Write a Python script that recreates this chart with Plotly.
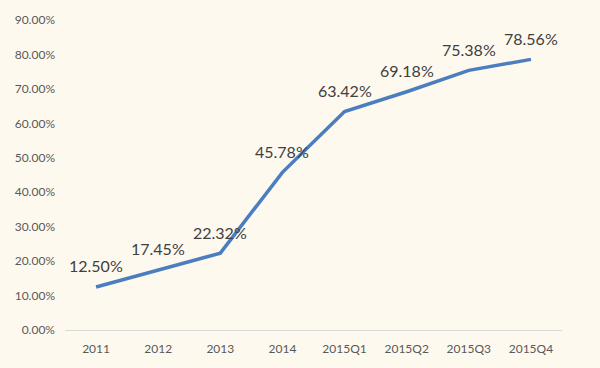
import plotly.graph_objects as go

categories = ["2011", "2012", "2013", "2014", "2015Q1", "2015Q2", "2015Q3", "2015Q4"]
values = [0.1250, 0.1745, 0.2232, 0.4578, 0.6342, 0.6918, 0.7538, 0.7856]
labels = ["12.50%", "17.45%", "22.32%", "45.78%", "63.42%", "69.18%", "75.38%", "78.56%"]
y_ticks = [0, 0.1, 0.2, 0.3, 0.4, 0.5, 0.6, 0.7, 0.8, 0.9]
y_tick_text = ["0.00%", "10.00%", "20.00%", "30.00%", "40.00%", "50.00%", "60.00%", "70.00%", "80.00%", "90.00%"]

bg = "#FEF9EE"
font_family = "Lato, Open Sans, Liberation Sans, sans-serif"
fig = go.Figure()
fig.add_trace(go.Scatter(
    x=categories, y=values, mode="lines",
    line=dict(color="#4A7EBF", width=3.5),
    hoverinfo="skip",
))
for i, (v, t) in enumerate(zip(values, labels)):
    fig.add_annotation(x=i, y=v, xref="x", yref="y", text=t, showarrow=False, yshift=21,
                       font=dict(family=font_family, size=16, color="#404040"))

fig.update_layout(
    width=600, height=368,
    paper_bgcolor=bg, plot_bgcolor=bg,
    margin=dict(l=65, r=38, t=17, b=37),
    showlegend=False,
    xaxis=dict(
        type="category", showgrid=False, showline=True, linecolor="#D9D9D9", linewidth=1,
        ticks="", ticklabelstandoff=8, tickfont=dict(family=font_family, size=12, color="#595959"),
        range=[-0.5, 7.5], fixedrange=True,
    ),
    yaxis=dict(
        range=[0, 0.9], tickvals=y_ticks, ticktext=y_tick_text, showgrid=False,
        zeroline=False, showline=False, ticks="", ticklabelstandoff=9,
        tickfont=dict(family=font_family, size=12, color="#595959"),
        fixedrange=True,
    ),
)
fig.write_html(
    "out.html",
    config={"displayModeBar": False},
    post_script="document.body.style.margin='0';document.body.style.backgroundColor='#FEF9EE';",
)
